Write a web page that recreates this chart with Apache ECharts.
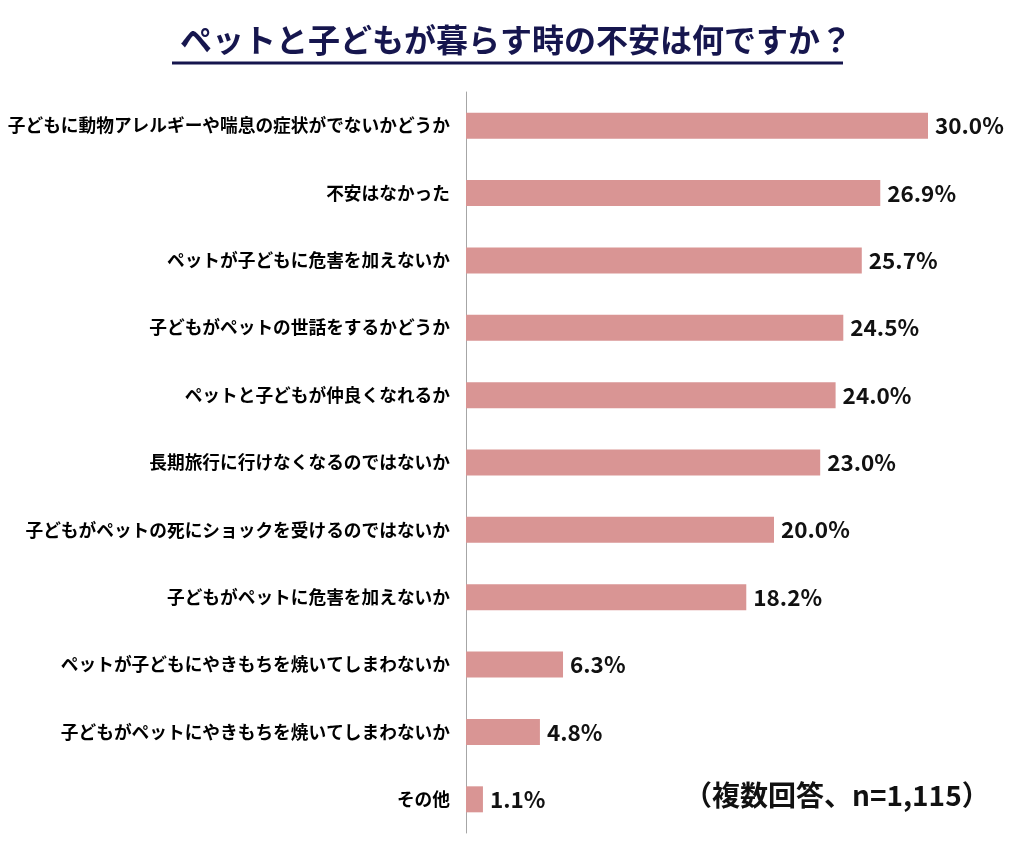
<!DOCTYPE html>
<html>
<head>
<meta charset="utf-8">
<script src="https://cdn.jsdelivr.net/npm/echarts@6/dist/echarts.min.js"></script>
<style>html,body{margin:0;padding:0;background:#fff;}#main{width:1032px;height:843px;}</style>
</head>
<body>
<div id="main"></div>
<script>
const titleText = 'ペットと子どもが暮らす時の不安は何ですか？';
const noteText = '（複数回答、n=1,115）';
const categories = [
  '子どもに動物アレルギーや喘息の症状がでないかどうか',
  '不安はなかった',
  'ペットが子どもに危害を加えないか',
  '子どもがペットの世話をするかどうか',
  'ペットと子どもが仲良くなれるか',
  '長期旅行に行けなくなるのではないか',
  '子どもがペットの死にショックを受けるのではないか',
  '子どもがペットに危害を加えないか',
  'ペットが子どもにやきもちを焼いてしまわないか',
  '子どもがペットにやきもちを焼いてしまわないか',
  'その他'
];
const values = [30.0, 26.9, 25.7, 24.5, 24.0, 23.0, 20.0, 18.2, 6.3, 4.8, 1.1];

const FONT = '"Noto Sans CJK JP", "Noto Sans", sans-serif';
const chart = echarts.init(document.getElementById('main'), null, {renderer: 'canvas'});
chart.setOption({
  backgroundColor: '#ffffff',
  animation: false,
  grid: {left: 466, top: 92, width: 462, height: 741, containLabel: false},
  xAxis: {
    type: 'value', min: 0, max: 30,
    show: false
  },
  yAxis: {
    type: 'category', data: categories, inverse: true,
    axisLine: {show: true, lineStyle: {color: '#a6a6a6', width: 1}},
    axisTick: {show: false},
    axisLabel: {color: '#000', fontSize: 17.7, fontWeight: 'bold', fontFamily: FONT, margin: 16}
  },
  series: [{
    type: 'bar', data: values, barWidth: 26,
    itemStyle: {color: '#d99594'},
    label: {
      show: true, position: 'right', distance: 7,
      formatter: p => p.value.toFixed(1) + '%',
      color: '#111', fontSize: 22.5, fontWeight: 'bold', fontFamily: FONT
    }
  }],
  graphic: [
    {type: 'text', left: 'center', top: 24, style: {text: titleText, fill: '#16164e', font: 'bold 32px ' + FONT}},
    {type: 'line', shape: {x1: 172, y1: 63, x2: 843, y2: 63}, style: {stroke: '#16164e', lineWidth: 3}},
    {type: 'text', left: 684, top: 781, style: {text: noteText, fill: '#111', font: 'bold 28px ' + FONT}}
  ]
});
</script>
</body>
</html>
